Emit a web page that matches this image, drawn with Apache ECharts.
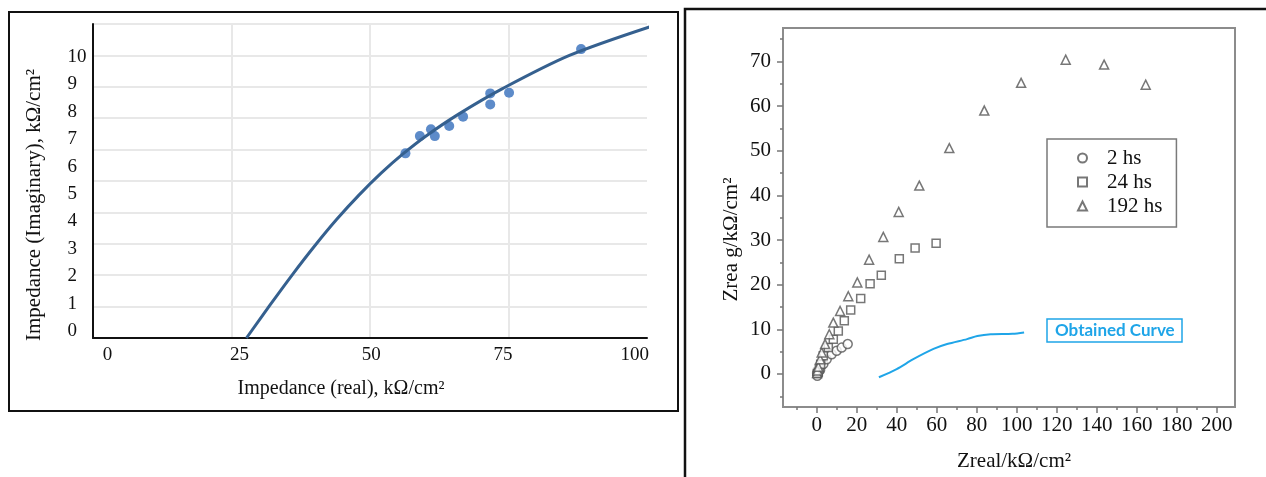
<!DOCTYPE html>
<html>
<head>
<meta charset="utf-8">
<title>Impedance</title>
<script src="https://cdn.jsdelivr.net/npm/echarts@6/dist/echarts.min.js"></script>
<style>
  html, body { margin: 0; padding: 0; background: #fff; }
  #chart { width: 1266px; height: 477px; }
</style>
</head>
<body>
<div id="chart"></div>
<script>
  // left panel: measured points and fitted curve (real, imaginary)
  var fitPoints = [
    [56.4, 5.88], [59.0, 6.43], [61.0, 6.65], [61.7, 6.43], [64.3, 6.75],
    [66.8, 7.05], [71.7, 7.79], [71.7, 7.44], [75.1, 7.81], [88.1, 9.2]
  ];
  var fitCurve = [
    [27.7, 0], [32, 1.06], [36, 2.02], [40, 2.93], [44, 3.78], [48, 4.55],
    [52, 5.25], [56, 5.87], [60, 6.42], [66, 7.13], [74, 7.95], [86, 9.0],
    [100.5, 9.91]
  ];

  // right panel: Nyquist points per immersion time
  var hs2 = [
    [0.2, 0.2], [0.3, -0.4], [0.8, 0.5], [1.7, 0.9], [3.3, 2.2], [5.0, 3.3],
    [7.5, 4.4], [10.0, 5.2], [12.5, 5.9], [15.5, 6.7]
  ];
  var hs24 = [
    [0.3, 0.1], [0.8, 0.4], [1.3, 1.2], [2.0, 2.2], [3.3, 4.1], [5.8, 5.9],
    [8.3, 7.8], [10.8, 9.6], [13.8, 11.9], [17.0, 14.3], [22.0, 16.9],
    [26.7, 20.2], [32.3, 22.1], [41.3, 25.8], [49.2, 28.2], [59.7, 29.3]
  ];
  var hs192 = [
    [0.2, 0.2], [0.4, 0.8], [0.8, 1.6], [1.7, 3.3], [2.5, 4.8], [4.2, 6.7],
    [6.3, 8.9], [8.3, 11.5], [11.7, 14.1], [15.8, 17.4], [20.3, 20.5],
    [26.2, 25.6], [33.3, 30.7], [41.0, 36.3], [51.3, 42.2], [66.3, 50.6],
    [83.8, 59.0], [102.2, 65.2], [124.5, 70.4], [143.7, 69.3], [164.5, 64.8]
  ];
  var obtainedCurve = [
    [31.1, -0.73], [40.0, 1.1], [48.3, 3.3], [58.4, 5.6], [65.2, 6.7],
    [75.2, 7.8], [80.3, 8.5], [87.0, 8.9], [97.9, 9.0], [103.7, 9.3]
  ];

  // tick values of the right panel
  var rightXTicks = [0, 20, 40, 60, 80, 100, 120, 140, 160, 180, 200];
  var rightXMinor = [-10, 10, 30, 50, 70, 90, 110, 130, 150, 170, 190];
  var rightYTicks = [0, 10, 20, 30, 40, 50, 60, 70];
  var rightYMinor = [-5, 5, 15, 25, 35, 45, 55, 65, 75];

  var serif = "'Liberation Serif', 'Times New Roman', serif";
  var ink = '#111';
  var grey = '#8c8c8c';

  var myChart = echarts.init(document.getElementById('chart'));

  var markerStyle = {
    color: '#fff',
    borderColor: '#555',
    borderWidth: 1.5
  };

  myChart.setOption({
    animation: false,
    backgroundColor: '#fff',
    title: [{
      text: 'Obtained Curve',
      left: 1047,
      top: 319,
      padding: [3, 8, 3, 8],
      borderColor: '#1fa5e8',
      borderWidth: 1.5,
      textStyle: {
        fontFamily: 'Lato',
        fontWeight: 'bold',
        fontSize: 17,
        color: '#1fa5e8'
      }
    }],
    legend: {
      data: ['2 hs', '24 hs', '192 hs'],
      orient: 'vertical',
      left: 1047,
      top: 139,
      padding: [8, 14, 10, 30],
      itemWidth: 9,
      itemHeight: 9,
      itemGap: 2,
      borderColor: '#7a7a7a',
      borderWidth: 1.5,
      backgroundColor: '#fff',
      textStyle: {
        fontFamily: serif,
        fontSize: 21,
        color: ink,
        lineHeight: 22,
        padding: [0, 0, 0, 15]
      }
    },
    grid: [
      { left: 93, top: 24, width: 554, height: 314 },
      { left: 107.6, top: 57, width: 527.2, height: 274 },
      { left: 783, top: 28, width: 452, height: 382, show: true, borderColor: grey, borderWidth: 2 }
    ],
    xAxis: [
      {
        gridIndex: 0, type: 'value', min: 0, max: 100, interval: 25,
        axisLine: { onZero: false, lineStyle: { color: ink, width: 2 } },
        axisTick: { show: false },
        axisLabel: { show: false },
        splitLine: { showMaxLine: false, lineStyle: { color: '#e8e8e8', width: 2 } },
        name: 'Impedance (real), kΩ/cm²',
        nameLocation: 'middle',
        nameGap: 41,
        nameTextStyle: { fontFamily: serif, fontSize: 20, color: ink, padding: [0, 58, 0, 0] }
      },
      {
        gridIndex: 1, type: 'value', min: 0, max: 100, interval: 25,
        axisLine: { show: false, onZero: false },
        axisTick: { show: false },
        splitLine: { show: false },
        axisLabel: { margin: 15, fontFamily: serif, fontSize: 19, color: ink }
      },
      {
        gridIndex: 2, type: 'value', position: 'bottom', min: -16.85, max: 209.15,
        axisLine: { onZero: false, lineStyle: { color: grey, width: 2 } },
        axisTick: { inside: false, length: 6, customValues: rightXTicks, lineStyle: { color: '#777', width: 1.5 } },
        axisLabel: { customValues: rightXTicks, margin: 8, fontFamily: serif, fontSize: 21, color: ink },
        splitLine: { show: false },
        name: 'Zreal/kΩ/cm²',
        nameLocation: 'middle',
        nameGap: 44,
        nameTextStyle: { fontFamily: serif, fontSize: 21, color: ink, padding: [0, 0, 0, 10] }
      },
      {
        gridIndex: 2, type: 'value', position: 'bottom', min: -16.85, max: 209.15,
        axisLine: { show: false, onZero: false },
        axisTick: { inside: false, length: 3, customValues: rightXMinor, lineStyle: { color: '#777', width: 1.5 } },
        axisLabel: { show: false },
        splitLine: { show: false }
      }
    ],
    yAxis: [
      {
        gridIndex: 0, type: 'value', min: 0, max: 10, interval: 1,
        axisLine: { show: true, onZero: false, lineStyle: { color: ink, width: 2 } },
        axisTick: { show: false },
        axisLabel: { show: false },
        splitLine: { lineStyle: { color: '#e8e8e8', width: 2 } },
        name: 'Impedance (Imaginary), kΩ/cm²',
        nameLocation: 'middle',
        nameGap: 48,
        nameTextStyle: { fontFamily: serif, fontSize: 21, color: ink, padding: [0, 48, 0, 0] }
      },
      {
        gridIndex: 1, type: 'value', min: 0, max: 10, interval: 1,
        axisLine: { show: false, onZero: false },
        axisTick: { show: false },
        splitLine: { show: false },
        axisLabel: { align: 'left', margin: 40, fontFamily: serif, fontSize: 19, color: ink }
      },
      {
        gridIndex: 2, type: 'value', position: 'left', min: -7.4, max: 77.49,
        axisLine: { show: true, onZero: false, lineStyle: { color: grey, width: 2 } },
        axisTick: { show: true, inside: false, length: 6, customValues: rightYTicks, lineStyle: { color: '#777', width: 1.5 } },
        axisLabel: { customValues: rightYTicks, margin: 12, fontFamily: serif, fontSize: 21, color: ink },
        splitLine: { show: false },
        name: 'Zrea g/kΩ/cm²',
        nameLocation: 'middle',
        nameGap: 41,
        nameTextStyle: { fontFamily: serif, fontSize: 21, color: ink, padding: [0, 44, 0, 0] }
      },
      {
        gridIndex: 2, type: 'value', position: 'left', min: -7.4, max: 77.49,
        axisLine: { show: false, onZero: false },
        axisTick: { show: true, inside: false, length: 3, customValues: rightYMinor, lineStyle: { color: '#777', width: 1.5 } },
        axisLabel: { show: false },
        splitLine: { show: false }
      }
    ],
    series: [
      {
        name: 'measured',
        type: 'scatter',
        xAxisIndex: 0, yAxisIndex: 0,
        data: fitPoints,
        symbolSize: 10,
        itemStyle: { color: '#4f81c4', opacity: 0.92 }
      },
      {
        name: 'fit',
        type: 'line',
        xAxisIndex: 0, yAxisIndex: 0,
        data: fitCurve,
        smooth: 0.3,
        showSymbol: false,
        clip: false,
        lineStyle: { color: '#35608f', width: 3 }
      },
      {
        name: '2 hs',
        type: 'scatter',
        xAxisIndex: 2, yAxisIndex: 2,
        data: hs2,
        symbol: 'circle',
        symbolSize: 9,
        itemStyle: markerStyle
      },
      {
        name: '24 hs',
        type: 'scatter',
        xAxisIndex: 2, yAxisIndex: 2,
        data: hs24,
        symbol: 'rect',
        symbolSize: 8,
        itemStyle: markerStyle
      },
      {
        name: '192 hs',
        type: 'scatter',
        xAxisIndex: 2, yAxisIndex: 2,
        data: hs192,
        symbol: 'triangle',
        symbolSize: 9,
        itemStyle: markerStyle
      },
      {
        name: 'Obtained Curve',
        type: 'line',
        xAxisIndex: 2, yAxisIndex: 2,
        data: obtainedCurve,
        smooth: 0.3,
        showSymbol: false,
        lineStyle: { color: '#1fa5e8', width: 2 }
      }
    ],
    graphic: [
      {
        type: 'rect',
        shape: { x: 9, y: 12, width: 669, height: 399 },
        style: { fill: 'none', stroke: ink, lineWidth: 2 }
      },
      {
        type: 'polyline',
        shape: { points: [[685, 477], [685, 9], [1266, 9]] },
        style: { fill: 'none', stroke: ink, lineWidth: 2.5 }
      }
    ]
  });
</script>
</body>
</html>
